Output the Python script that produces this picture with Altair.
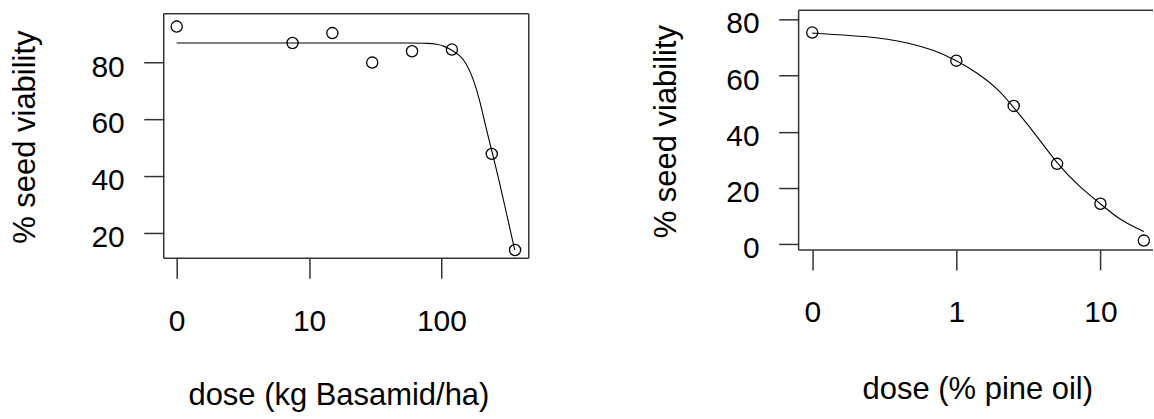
import altair as alt
import numpy as np
import pandas as pd

FONT = "Liberation Sans"

# Basamid trial: observed viability and fitted dose-response curve
basamid_dose = [0, 7.5, 15, 30, 60, 120, 240, 360]
basamid_viability = [92.7, 86.9, 90.4, 80.0, 84.0, 84.6, 47.8, 13.9]
basamid_fit_dose = [0, 10, 30, 60, 80, 92, 105, 118, 138, 155, 174, 195, 219, 243, 276, 310, 358]
basamid_fit_viability = [86.9, 86.9, 86.9, 86.9, 86.8, 86.5, 85.8, 84.6, 82.6, 79.6, 74.4,
                         66.7, 56.2, 48.0, 37.4, 26.8, 13.9]
basamid_tick_dose = [0, 10, 100]
basamid_tick_text = ["0", "10", "100"]
basamid_y_ticks = [20, 40, 60, 80]

# Pine oil trial
pine_dose = [0, 1, 2.5, 5, 10, 20]
pine_viability = [75.3, 65.3, 49.2, 28.6, 14.4, 1.3]
pine_fit_dose = [0, 0.135, 0.24, 0.33, 0.47, 0.69, 1.0, 1.37, 2.0, 2.45, 3.4, 5.0,
                 7.1, 10, 13.5, 18.5, 20]
pine_fit_viability = [75.1, 74.7, 73.9, 73.0, 71.6, 69.2, 65.4, 61.3, 54.8, 49.1,
                      40.4, 28.6, 20.5, 14.4, 8.8, 5.3, 4.5]
pine_tick_dose = [0, 1, 10]
pine_tick_text = ["0", "1", "10"]
pine_y_ticks = [0, 20, 40, 60, 80]


def log_pos(dose, zero_at):
    """Log10 position on the broken dose axis: dose 0 sits at `zero_at`."""
    d = np.asarray(dose, dtype=float)
    return np.log10(np.where(d == 0, zero_at, d))


def label_expr(positions, texts):
    expr = "''"
    for p, t in reversed(list(zip(positions, texts))):
        expr = f"abs(datum.value - ({p})) < 0.01 ? '{t}' : {expr}"
    return expr


def const_rule(**enc):
    return alt.Chart(pd.DataFrame({"k": [0]})).mark_rule(
        color="#333", strokeWidth=1.5
    ).encode(**enc)


def panel(dose, viab, fit_dose, fit_viab, zero_at, tick_dose, tick_text, y_ticks,
          xdom, ydom, width, height, top_gap, right_border, xtitle,
          x_title_x, x_title_y, y_title_x, y_title_y, x_label_pad, lead):
    pts = pd.DataFrame({"pos": log_pos(dose, zero_at), "viability": viab})
    fit = pd.DataFrame({"pos": log_pos(fit_dose, zero_at), "viability": fit_viab})
    tick_pos = [float(v) for v in log_pos(tick_dose, zero_at)]

    xaxis = alt.Axis(
        values=tick_pos, labelExpr=label_expr(tick_pos, tick_text),
        domain=False, grid=False, tickSize=20, tickWidth=1.5, tickColor="#333",
        labelFont=FONT, labelFontSize=30, labelColor="black",
        labelPadding=x_label_pad, labelBaseline="alphabetic", labelFlush=False,
        labelOverlap=False, title=xtitle, titleFont=FONT, titleFontSize=31,
        titleFontWeight="normal", titleColor="black", titleX=x_title_x,
        titleY=x_title_y, titleAlign="center", titleBaseline="alphabetic",
    )
    yaxis = alt.Axis(
        values=y_ticks, domain=False, grid=False, tickSize=20, tickWidth=1.5,
        tickColor="#333", labelFont=FONT, labelFontSize=30, labelColor="black",
        labelPadding=19.5, labelBaseline="alphabetic", labelOffset=13.5,
        labelFlush=False, labelOverlap=False, title="% seed viability",
        titleFont=FONT, titleFontSize=31, titleFontWeight="normal",
        titleColor="black", titleAngle=270, titleX=y_title_x, titleY=y_title_y,
        titleAlign="center", titleBaseline="alphabetic",
    )
    xs = alt.Scale(domain=xdom, nice=False, zero=False)
    ys = alt.Scale(domain=ydom, nice=False, zero=False)

    curve = alt.Chart(fit).mark_line(
        color="black", strokeWidth=1.1, interpolate="basis"
    ).encode(
        x=alt.X("pos:Q", scale=xs, axis=xaxis),
        y=alt.Y("viability:Q", scale=ys, axis=yaxis),
    )
    points = alt.Chart(pts).mark_point(
        shape="circle", filled=False, size=125, strokeWidth=1.3, color="black",
        opacity=1,
    ).encode(x=alt.X("pos:Q", scale=xs), y=alt.Y("viability:Q", scale=ys))

    layers = [
        const_rule(x=alt.value(0), x2=alt.value(width), y=alt.value(top_gap)),
        const_rule(x=alt.value(0), y=alt.value(top_gap), y2=alt.value(height)),
        const_rule(x=alt.value(0), x2=alt.value(width), y=alt.value(height)),
    ]
    if right_border:
        layers.append(const_rule(x=alt.value(width), y=alt.value(top_gap),
                                 y2=alt.value(height)))
    layers += [curve, points]
    if lead is not None:
        # transparent frame that fixes the page extent around the panels
        layers.insert(0, alt.Chart(pd.DataFrame({"k": [0]})).mark_rect(opacity=0).encode(
            x=alt.value(lead[0]), x2=alt.value(lead[1]),
            y=alt.value(lead[2]), y2=alt.value(lead[3])))
    return alt.layer(*layers).properties(width=width, height=height)


left = panel(
    basamid_dose, basamid_viability, basamid_fit_dose, basamid_fit_viability,
    zero_at=1, tick_dose=basamid_tick_dose, tick_text=basamid_tick_text,
    y_ticks=basamid_y_ticks, xdom=[-0.098, 2.660], ydom=[11.0, 98.42],
    width=365.7, height=248.3, top_gap=3.3, right_border=True,
    xtitle="dose (kg Basamid/ha)", x_title_x=175, x_title_y=146.7,
    y_title_x=-129.8, y_title_y=126.5, x_label_pad=52.4,
    lead=(-163.3, 990.7, -10, 409),
)
right = panel(
    pine_dose, pine_viability, pine_fit_dose, pine_fit_viability,
    zero_at=0.1, tick_dose=pine_tick_dose, tick_text=pine_tick_text,
    y_ticks=pine_y_ticks, xdom=[-1.0946, 1.3647], ydom=[-2.02, 83.2],
    width=355, height=240, top_gap=0, right_border=False,
    xtitle="dose (% pine oil)", x_title_x=179, x_title_y=149,
    y_title_x=-123.8, y_title_y=121, x_label_pad=51.7, lead=None,
)

chart = alt.hconcat(left, right, spacing=270, bounds="flush").properties(
    padding=0, autosize=alt.AutoSizeParams(type="pad"), background="white"
).configure_view(stroke=None)

chart.save("out.html", embed_options={"renderer": "svg", "actions": False})
